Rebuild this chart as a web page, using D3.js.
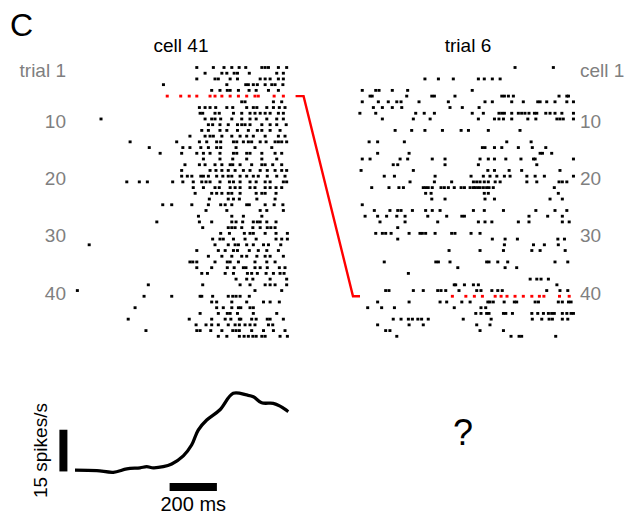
<!DOCTYPE html>
<html lang="en">
<head>
    <meta charset="UTF-8">
    <script src="https://d3js.org/d3.v7.min.js"></script>
    <title>Raster</title>
    <style>
        body { margin: 0; background: #fff; }
        text { font-family: "Liberation Sans", Arial, sans-serif; }
    </style>
</head>
<body>
<script>
    // spike times (ms) for cell 41, one array per trial (1..48)
    var cell41Trials = [
        [515, 585, 630, 663, 694, 722, 790, 804, 818, 860, 895],
        [550, 621, 642, 673, 687, 737, 853, 881],
        [515, 592, 606, 656, 687, 783, 804, 825, 860, 881],
        [374, 642, 722, 733, 754, 771, 804, 832, 846, 879],
        [578, 613, 644, 656, 691, 736, 766, 818, 860],
        [390, 447, 483, 515, 571, 592, 621, 656, 691, 726, 761, 775, 842, 881],
        [705, 719, 839, 874],
        [526, 550, 571, 595, 642, 667, 726, 754, 769, 811, 839, 864, 888],
        [529, 540, 592, 610, 670, 705, 740, 761, 783, 804, 825, 860, 881],
        [110, 550, 578, 592, 616, 663, 705, 740, 766, 811, 853, 881],
        [564, 582, 613, 648, 687, 705, 719, 740, 790, 825, 853, 893],
        [536, 564, 613, 642, 687, 733, 771, 790, 825, 867],
        [486, 550, 571, 585, 621, 663, 698, 726, 754, 804, 860, 888],
        [233, 430, 526, 557, 599, 616, 670, 684, 712, 733, 747, 783, 808, 846, 860, 874, 895],
        [314, 456, 486, 532, 564, 599, 616, 681, 761, 832],
        [360, 451, 515, 543, 571, 613, 670, 684, 726, 740, 790, 846, 874],
        [543, 613, 667, 726, 790, 853],
        [465, 526, 550, 592, 621, 656, 667, 698, 747, 790, 804, 836, 874],
        [451, 571, 596, 621, 648, 677, 712, 740, 783, 813, 846, 874, 895],
        [451, 475, 494, 532, 543, 564, 599, 625, 648, 663, 698, 726, 754, 775, 813, 853, 888],
        [219, 272, 306, 413, 456, 500, 536, 554, 571, 613, 653, 670, 698, 740, 766, 804, 825, 881, 895],
        [500, 543, 592, 610, 656, 677, 698, 740, 761, 804, 825, 850, 874],
        [508, 578, 599, 621, 648, 663, 698, 766, 790, 804, 850],
        [568, 648, 670, 695, 769, 846],
        [371, 409, 494, 564, 616, 635, 663, 726, 737, 804, 842, 879],
        [554, 642, 783, 811, 881],
        [522, 663, 712, 790],
        [346, 526, 578, 663, 681, 709, 754, 771, 783, 811, 850],
        [540, 648, 663, 677, 705, 752, 783, 813, 828, 846],
        [616, 653, 716, 740, 754, 804, 850, 898],
        [582, 613, 627, 670, 719, 766, 850, 874, 898],
        [60, 592, 648, 677, 691, 726, 754, 797, 818, 870],
        [515, 606, 635, 670, 687, 737, 775, 811, 860],
        [564, 621, 663, 705, 726, 769, 804, 825, 881],
        [486, 498, 515, 592, 644, 656, 691, 761, 811, 846],
        [515, 578, 644, 673, 712, 723, 761, 783, 813, 864, 888],
        [536, 560, 635, 670, 729, 747, 771, 808, 839, 867, 884],
        [681, 726, 752, 825, 895],
        [310, 540, 698, 740, 804, 825, 846, 895],
        [10, 761, 874],
        [292, 409, 529, 536, 582, 648, 667, 681, 698, 737],
        [578, 599, 663, 726, 797, 825, 864],
        [254, 599, 627, 663, 691, 701, 740, 754],
        [529, 606, 644, 656, 687, 754, 853],
        [225, 483, 578, 635, 659, 695, 701, 747, 766, 813, 825, 881],
        [512, 554, 578, 606, 648, 677, 695, 719, 740, 761, 818, 836],
        [300, 515, 529, 574, 621, 667, 681, 695, 747, 797, 839, 888],
        [606, 642, 695, 715, 733, 752, 766, 790, 804, 867, 898]
    ];

    // spike times (ms) in trial 6, one array per cell (1..48)
    var trial6Cells = [
        [664, 826],
        [],
        [283, 340, 403, 509, 534, 568, 601],
        [],
        [18, 75, 89, 145, 210, 483],
        [51, 60, 206, 312, 323, 410, 608, 619, 636, 657, 850, 883, 890],
        [18, 86, 128, 164, 182, 258, 382, 537, 568, 650, 699, 760, 770, 798, 833, 883, 911],
        [65, 103, 145, 185, 389, 441, 512],
        [8, 75, 244, 280, 323, 483, 530, 596, 608, 619, 650, 678, 692, 706, 723, 746, 756, 794, 812, 833, 862, 911],
        [103, 234, 305, 509, 577, 596, 615, 650, 718, 752, 841, 854, 868, 911],
        [],
        [157, 227, 283, 357, 436, 467, 551, 685],
        [],
        [47, 83, 196, 629, 732],
        [526, 537, 577, 608, 678, 737, 794],
        [83, 216, 770, 780, 819],
        [18, 51, 178, 210, 314, 368, 516, 551, 577, 625, 689, 742, 749, 911],
        [149, 168, 368, 509, 756],
        [13, 234, 549, 577, 639, 692, 854],
        [111, 154, 326, 478, 530, 558, 587, 619, 643, 714, 749, 788, 911],
        [220, 323, 396, 488, 502, 516, 534, 551, 580, 601, 714, 756, 850, 864, 883],
        [58, 131, 173, 192, 276, 286, 297, 314, 351, 365, 382, 407, 436, 450, 474, 488, 495, 506, 516, 530, 544, 554, 572, 830],
        [286, 309, 534, 551, 847],
        [312, 368, 537, 577, 812, 864],
        [18],
        [69, 135, 168, 182, 230, 286, 314, 347, 488, 534, 615, 752, 833, 883],
        [30, 83, 121, 164, 199, 295, 375, 439, 450, 723, 802, 864],
        [93, 199, 337, 509, 537, 566, 678, 723, 864, 893],
        [168],
        [75, 103, 117, 140, 216, 262, 272, 286, 326, 396, 410, 478, 516],
        [168, 568, 622, 674, 845, 873],
        [619, 742, 788, 847],
        [385, 516, 615, 735, 770, 876],
        [],
        [111, 329, 340, 389, 544, 554, 591, 633, 833, 887],
        [422, 622, 671],
        [213],
        [728, 756, 774, 805],
        [407, 413, 450, 488, 509, 841],
        [117, 131, 234, 276, 337, 351, 371, 427, 502, 520, 566, 591, 610, 798, 854, 887],
        [399, 456, 492, 526, 580, 605, 630, 664, 699, 735, 767, 786, 852, 893],
        [83, 216, 347, 375, 439, 474, 549, 558, 572, 618, 661, 671, 749, 763, 847, 864, 890, 901],
        [41, 100, 154, 407, 520, 540],
        [498, 520, 544, 554, 615, 625, 653, 735, 760, 784, 805, 819, 830, 864, 883, 901, 911],
        [149, 182, 213, 230, 253, 269, 297, 445, 563, 737, 777, 808, 822, 864, 887],
        [83, 216, 276, 502, 558],
        [117, 135, 516, 615],
        [164, 647, 681, 692, 836]
    ];

    // trial-averaged rate of cell 41
    var psthTime = [0, 92, 162, 219, 275, 303, 331, 373, 409, 458, 493, 521, 557, 613, 669, 726, 754, 789, 838, 867, 902];
    var psthRate = [2.5, 2.3, 1.7, 2.9, 3.3, 3.7, 3.3, 3.7, 4.7, 7.6, 11.5, 16.9, 20.5, 24.2, 30.1, 29.5, 28.9, 26.7, 26.5, 25.5, 23.5];

    var leftTicks = [1, 10, 20, 30, 40];
    var leftTickText = ["trial 1", "10", "20", "30", "40"];
    var rightTicks = [1, 10, 20, 30, 40];
    var rightTickText = ["cell 1", "10", "20", "30", "40"];

    var selTrial = 6, selCell = 41;

    var width = 638, height = 520;
    var pxPerMs = 0.2365;

    var svg = d3.select("body").append("svg")
            .attr("width", width)
            .attr("height", height);

    var xLeft = d3.scaleLinear().domain([0, 920]).range([75, 75 + 920 * pxPerMs]);
    var xRight = d3.scaleLinear().domain([0, 920]).range([358, 358 + 920 * pxPerMs]);
    var yRow = d3.scaleLinear().domain([1, 48]).range([67.5, 336.3]);
    var yRate = d3.scaleLinear().domain([0, 30]).range([477, 477 - 30 * 2.78]);

    function raster(data, x, redRow) {
        var flat = [];
        data.forEach(function (row, i) {
            row.forEach(function (t) { flat.push({row: i + 1, t: t}); });
        });
        svg.append("g").selectAll("rect")
                .data(flat)
                .enter()
                .append("rect")
                .attr("x", function (d) { return x(d.t) - 1.5; })
                .attr("y", function (d) { return yRow(d.row) - 1.4; })
                .attr("width", 3)
                .attr("height", 2.8)
                .attr("fill", function (d) { return d.row === redRow ? "#ff0000" : "#000"; });
    }

    raster(cell41Trials, xLeft, selTrial);
    raster(trial6Cells, xRight, selCell);

    // link between trial 6 row and cell 41 row
    var xl = xLeft.range()[1], xr = xRight.range()[0];
    svg.append("path")
            .attr("d", d3.line()([[xl + 3, yRow(selTrial)], [xl + 11, yRow(selTrial)],
                [xr - 5, yRow(selCell)], [xr + 2, yRow(selCell)]]))
            .attr("fill", "none")
            .attr("stroke", "#ff0000")
            .attr("stroke-width", 2.4);

    // row labels
    svg.append("g").selectAll("text")
            .data(leftTicks)
            .enter()
            .append("text")
            .attr("x", 66)
            .attr("y", function (d) { return yRow(d) + 9; })
            .attr("text-anchor", "end")
            .attr("font-size", 19)
            .attr("fill", "#7f7f7f")
            .text(function (d, i) { return leftTickText[i]; });

    svg.append("g").selectAll("text")
            .data(rightTicks)
            .enter()
            .append("text")
            .attr("x", 580)
            .attr("y", function (d) { return yRow(d) + 9; })
            .attr("font-size", 19)
            .attr("fill", "#7f7f7f")
            .text(function (d, i) { return rightTickText[i]; });

    svg.append("text").attr("x", 181).attr("y", 52).attr("text-anchor", "middle")
            .attr("font-size", 19).text("cell " + selCell);
    svg.append("text").attr("x", 468).attr("y", 52).attr("text-anchor", "middle")
            .attr("font-size", 19).text("trial " + selTrial);
    svg.append("text").attr("x", 10).attr("y", 36).attr("font-size", 32).text("C");

    // PSTH
    var line = d3.line()
            .x(function (d, i) { return xLeft(psthTime[i]); })
            .y(function (d) { return yRate(d); })
            .curve(d3.curveCatmullRom);

    svg.append("path")
            .attr("d", line(psthRate))
            .attr("fill", "none")
            .attr("stroke", "#000")
            .attr("stroke-width", 3.3)
            .attr("stroke-linejoin", "round");

    // scale bars: 15 spikes/s and 200 ms
    svg.append("rect")
            .attr("x", xLeft(-49) - 4)
            .attr("y", yRate(17))
            .attr("width", 8)
            .attr("height", yRate(2) - yRate(17))
            .attr("fill", "#000");

    svg.append("rect")
            .attr("x", xLeft(400))
            .attr("y", yRate(0) + 6)
            .attr("width", xLeft(600) - xLeft(400))
            .attr("height", 8)
            .attr("fill", "#000");

    svg.append("text")
            .attr("transform", "translate(47," + yRate(9.5) + ") rotate(-90)")
            .attr("text-anchor", "middle")
            .attr("font-size", 19)
            .text("15 spikes/s");

    svg.append("text")
            .attr("x", xLeft(500))
            .attr("y", 511)
            .attr("text-anchor", "middle")
            .attr("font-size", 20)
            .text("200 ms");

    svg.append("text")
            .attr("x", 463)
            .attr("y", 445)
            .attr("text-anchor", "middle")
            .attr("font-size", 36)
            .text("?");
</script>
</body>
</html>
